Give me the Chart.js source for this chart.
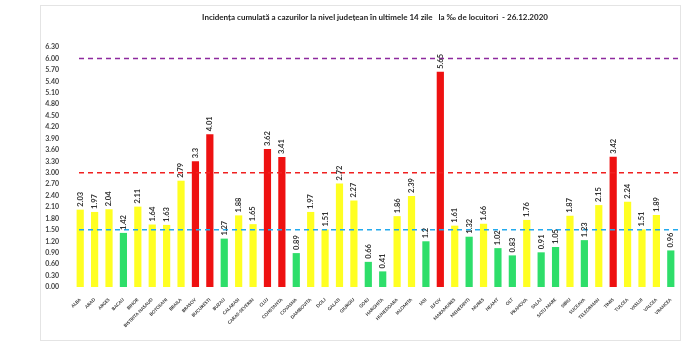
<!DOCTYPE html>
<html>
<head>
<meta charset="utf-8">
<script src="https://cdn.jsdelivr.net/npm/chart.js@4"></script>
<style>
  html, body { margin: 0; padding: 0; background: #fff; }
  #wrap { width: 700px; height: 352px; }
</style>
</head>
<body>
<div id="wrap"><canvas id="barChart" width="700" height="352"></canvas></div>
<script>
const judete = ["ALBA", "ARAD", "ARGES", "BACAU", "BIHOR", "BISTRITA NASAUD", "BOTOSANI", "BRAILA",
  "BRASOV", "BUCURESTI", "BUZAU", "CALARASI", "CARAS-SEVERIN", "CLUJ", "CONSTANTA", "COVASNA",
  "DAMBOVITA", "DOLJ", "GALATI", "GIURGIU", "GORJ", "HARGHITA", "HUNEDOARA", "IALOMITA", "IASI",
  "ILFOV", "MARAMURES", "MEHEDINTI", "MURES", "NEAMT", "OLT", "PRAHOVA", "SALAJ", "SATU MARE",
  "SIBIU", "SUCEAVA", "TELEORMAN", "TIMIS", "TULCEA", "VASLUI", "VALCEA", "VRANCEA"];

const incidenta = [2.03, 1.97, 2.04, 1.42, 2.11, 1.64, 1.63, 2.79, 3.3, 4.01, 1.27, 1.88, 1.65, 3.62,
  3.41, 0.89, 1.97, 1.51, 2.72, 2.27, 0.66, 0.41, 1.86, 2.39, 1.2, 5.65, 1.61, 1.32, 1.66, 1.02,
  0.83, 1.76, 0.91, 1.05, 1.87, 1.23, 2.15, 3.42, 2.24, 1.51, 1.89, 0.96];

// pragurile (linii punctate)
const praguri = [6.0, 3.0, 1.5];
const culoriPraguri = ["#8e2a9e", "#f02020", "#22aaee"];

const yMax = 6.3;
const yStep = 0.3;

const titlu = "Incidența cumulată a cazurilor la nivel județean în ultimele 14 zile   la ‰ de locuitori  - 26.12.2020";

// culoare bara dupa scenariu
const culoareBara = (v) => {
  if (v > 3) return "#ee1111";
  if (v >= 1.5) return "#ffff22";
  return "#2ede6a";
};

// chenar gri + titlu
const chenar = {
  id: "chenar",
  beforeDraw(chart) {
    const ctx = chart.ctx;
    ctx.save();
    ctx.fillStyle = "#fff";
    ctx.fillRect(0, 0, chart.width, chart.height);
    ctx.strokeStyle = "#e4e4e4";
    ctx.lineWidth = 1;
    ctx.strokeRect(40.5, 5.5, 640, 335);
    ctx.font = "bold 8px Lato";
    ctx.fillStyle = "#222";
    ctx.textAlign = "center";
    ctx.textBaseline = "middle";
    ctx.fillText(titlu, 375, 17);
    ctx.restore();
  }
};

// liniile de prag
const liniiPrag = {
  id: "liniiPrag",
  afterDatasetsDraw(chart) {
    const ctx = chart.ctx;
    const y = chart.scales.y;
    const area = chart.chartArea;
    ctx.save();
    ctx.lineWidth = 1.5;
    ctx.setLineDash([5, 4]);
    praguri.forEach((p, i) => {
      const py = y.getPixelForValue(p);
      ctx.strokeStyle = culoriPraguri[i];
      ctx.beginPath();
      ctx.moveTo(area.left + 6, py);
      ctx.lineTo(area.right, py);
      ctx.stroke();
    });
    ctx.restore();
  }
};

// etichetele valorilor, rotite
const etichete = {
  id: "etichete",
  afterDraw(chart) {
    const ctx = chart.ctx;
    const meta = chart.getDatasetMeta(0);
    ctx.save();
    ctx.font = "bold 7.5px Lato";
    ctx.fillStyle = "#333";
    ctx.textAlign = "left";
    ctx.textBaseline = "middle";
    meta.data.forEach((bar, i) => {
      ctx.save();
      ctx.translate(bar.x, bar.y - 3);
      ctx.rotate(-Math.PI / 2);
      ctx.fillText(String(incidenta[i]), 0, 0);
      ctx.restore();
    });
    ctx.restore();
  }
};

const ctx = document.getElementById("barChart").getContext("2d");

new Chart(ctx, {
  type: "bar",
  data: {
    labels: judete,
    datasets: [
      {
        data: incidenta,
        backgroundColor: incidenta.map(culoareBara),
        barPercentage: 0.5,
        categoryPercentage: 1.0,
      },
    ],
  },
  options: {
    responsive: false,
    animation: false,
    layout: { padding: { left: 40, right: 22, top: 47, bottom: 10 } },
    plugins: {
      legend: { display: false },
      tooltip: { enabled: false },
    },
    scales: {
      x: {
        grid: { display: false },
        border: { display: false },
        ticks: {
          autoSkip: false,
          maxRotation: 45,
          minRotation: 45,
          padding: 2,
          font: { family: "Lato", size: 4.5, weight: "bold" },
          color: "#333",
        },
        afterFit(scale) { scale.height = 55; },
      },
      y: {
        min: 0,
        max: yMax,
        grid: { display: false },
        border: { display: false },
        ticks: {
          stepSize: yStep,
          callback: (v) => v.toFixed(2),
          font: { family: "Lato", size: 7, weight: "bold" },
          color: "#444",
          padding: 6,
        },
        afterFit(scale) { scale.width = 33; },
      },
    },
  },
  plugins: [chenar, liniiPrag, etichete],
});
</script>
</body>
</html>
